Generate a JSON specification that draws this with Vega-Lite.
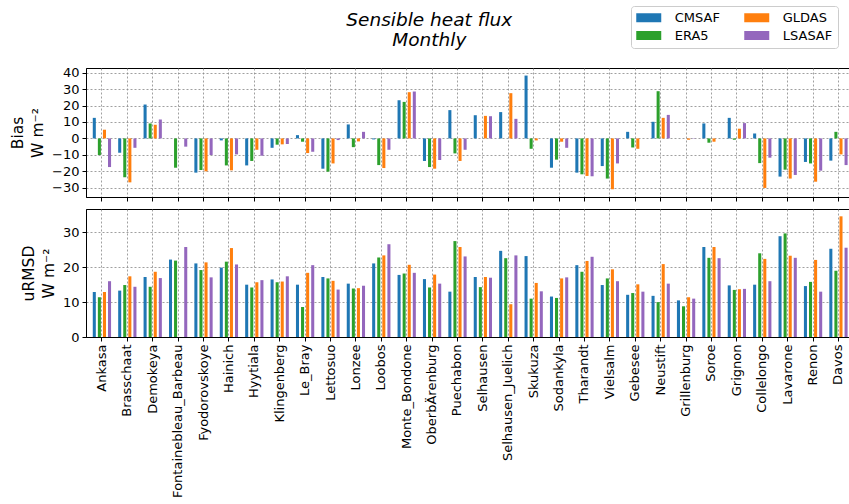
{
  "$schema": "https://vega.github.io/schema/vega-lite/v6.json",
  "background": "white",
  "padding": {"left": 10, "top": 5, "right": 0, "bottom": 0},
  "config": {
    "font": "DejaVu Sans",
    "view": {"stroke": "black", "strokeWidth": 1},
    "axis": {
      "labelFontSize": 13, "titleFontSize": 15.5, "labelColor": "black", "titleColor": "black",
      "titleFontWeight": "normal", "tickColor": "black", "domainColor": "black", "tickSize": 4,
      "gridColor": "#888", "gridDash": [2, 2], "gridWidth": 0.8, "labelPadding": 3, "titleLineHeight": 20
    }
  },
  "title": {"text": ["Sensible heat flux", "Monthly"], "fontStyle": "italic", "fontWeight": "normal", "fontSize": 18.5, "anchor": "middle", "lineHeight": 20.5, "offset": -44, "dx": -2, "color": "black", "font": "DejaVu Sans"},
  "data": {"values": [
    {"site":"Ankasa","product":"CMSAF","bias":12.5,"urmsd":12.9},{"site":"Ankasa","product":"ERA5","bias":-10.1,"urmsd":11.4},{"site":"Ankasa","product":"GLDAS","bias":5.3,"urmsd":12.9},{"site":"Ankasa","product":"LSASAF","bias":-17.4,"urmsd":16.0},
    {"site":"Brasschaat","product":"CMSAF","bias":-8.7,"urmsd":13.3},{"site":"Brasschaat","product":"ERA5","bias":-23.6,"urmsd":14.9},{"site":"Brasschaat","product":"GLDAS","bias":-26.7,"urmsd":17.4},{"site":"Brasschaat","product":"LSASAF","bias":-5.7,"urmsd":14.4},
    {"site":"Demokeya","product":"CMSAF","bias":20.6,"urmsd":17.2},{"site":"Demokeya","product":"ERA5","bias":9.1,"urmsd":14.4},{"site":"Demokeya","product":"GLDAS","bias":8.3,"urmsd":18.7},{"site":"Demokeya","product":"LSASAF","bias":11.5,"urmsd":16.9},
    {"site":"Fontainebleau_Barbeau","product":"CMSAF","bias":0,"urmsd":22.2},{"site":"Fontainebleau_Barbeau","product":"ERA5","bias":-17.8,"urmsd":21.9},{"site":"Fontainebleau_Barbeau","product":"GLDAS","bias":null,"urmsd":null},{"site":"Fontainebleau_Barbeau","product":"LSASAF","bias":-5.0,"urmsd":25.8},
    {"site":"Fyodorovskoye","product":"CMSAF","bias":-20.8,"urmsd":21.1},{"site":"Fyodorovskoye","product":"ERA5","bias":-19.2,"urmsd":19.2},{"site":"Fyodorovskoye","product":"GLDAS","bias":-20.0,"urmsd":21.4},{"site":"Fyodorovskoye","product":"LSASAF","bias":-10.1,"urmsd":17.1},
    {"site":"Hainich","product":"CMSAF","bias":-1.2,"urmsd":19.9},{"site":"Hainich","product":"ERA5","bias":-16.4,"urmsd":21.6},{"site":"Hainich","product":"GLDAS","bias":-19.4,"urmsd":25.5},{"site":"Hainich","product":"LSASAF","bias":-9.7,"urmsd":20.8},
    {"site":"Hyytiala","product":"CMSAF","bias":-16.4,"urmsd":15.0},{"site":"Hyytiala","product":"ERA5","bias":-13.7,"urmsd":14.2},{"site":"Hyytiala","product":"GLDAS","bias":-6.9,"urmsd":15.7},{"site":"Hyytiala","product":"LSASAF","bias":-10.5,"urmsd":16.3},
    {"site":"Klingenberg","product":"CMSAF","bias":-5.7,"urmsd":16.5},{"site":"Klingenberg","product":"ERA5","bias":-3.8,"urmsd":15.7},{"site":"Klingenberg","product":"GLDAS","bias":-3.6,"urmsd":15.9},{"site":"Klingenberg","product":"LSASAF","bias":-3.4,"urmsd":17.4},
    {"site":"Le_Bray","product":"CMSAF","bias":2.0,"urmsd":15.0},{"site":"Le_Bray","product":"ERA5","bias":-2.0,"urmsd":8.6},{"site":"Le_Bray","product":"GLDAS","bias":-8.9,"urmsd":18.4},{"site":"Le_Bray","product":"LSASAF","bias":-8.1,"urmsd":20.6},
    {"site":"Lettosuo","product":"CMSAF","bias":-18.4,"urmsd":17.2},{"site":"Lettosuo","product":"ERA5","bias":-20.2,"urmsd":16.8},{"site":"Lettosuo","product":"GLDAS","bias":-15.2,"urmsd":16.1},{"site":"Lettosuo","product":"LSASAF","bias":-1.0,"urmsd":13.6},
    {"site":"Lonzee","product":"CMSAF","bias":8.5,"urmsd":15.3},{"site":"Lonzee","product":"ERA5","bias":-5.3,"urmsd":13.9},{"site":"Lonzee","product":"GLDAS","bias":-1.8,"urmsd":14.0},{"site":"Lonzee","product":"LSASAF","bias":4.0,"urmsd":14.7},
    {"site":"Loobos","product":"CMSAF","bias":-0.6,"urmsd":21.1},{"site":"Loobos","product":"ERA5","bias":-16.2,"urmsd":22.8},{"site":"Loobos","product":"GLDAS","bias":-18.0,"urmsd":23.4},{"site":"Loobos","product":"LSASAF","bias":-6.9,"urmsd":26.6},
    {"site":"Monte_Bondone","product":"CMSAF","bias":23.2,"urmsd":17.8},{"site":"Monte_Bondone","product":"ERA5","bias":22.2,"urmsd":18.2},{"site":"Monte_Bondone","product":"GLDAS","bias":28.1,"urmsd":20.7},{"site":"Monte_Bondone","product":"LSASAF","bias":28.5,"urmsd":18.4},
    {"site":"OberbÄrenburg","product":"CMSAF","bias":-13.7,"urmsd":16.6},{"site":"OberbÄrenburg","product":"ERA5","bias":-17.4,"urmsd":14.2},{"site":"OberbÄrenburg","product":"GLDAS","bias":-18.4,"urmsd":17.9},{"site":"OberbÄrenburg","product":"LSASAF","bias":-13.1,"urmsd":15.3},
    {"site":"Puechabon","product":"CMSAF","bias":17.2,"urmsd":13.0},{"site":"Puechabon","product":"ERA5","bias":-9.1,"urmsd":27.5},{"site":"Puechabon","product":"GLDAS","bias":-13.7,"urmsd":25.8},{"site":"Puechabon","product":"LSASAF","bias":-6.9,"urmsd":23.1},
    {"site":"Selhausen","product":"CMSAF","bias":14.1,"urmsd":17.2},{"site":"Selhausen","product":"ERA5","bias":0,"urmsd":14.3},{"site":"Selhausen","product":"GLDAS","bias":13.7,"urmsd":17.2},{"site":"Selhausen","product":"LSASAF","bias":13.5,"urmsd":17.0},
    {"site":"Selhausen_Juelich","product":"CMSAF","bias":16.0,"urmsd":24.7},{"site":"Selhausen_Juelich","product":"ERA5","bias":0,"urmsd":22.6},{"site":"Selhausen_Juelich","product":"GLDAS","bias":27.5,"urmsd":9.4},{"site":"Selhausen_Juelich","product":"LSASAF","bias":11.9,"urmsd":23.4},
    {"site":"Skukuza","product":"CMSAF","bias":38.2,"urmsd":23.2},{"site":"Skukuza","product":"ERA5","bias":-6.3,"urmsd":11.0},{"site":"Skukuza","product":"GLDAS","bias":-1.2,"urmsd":15.5},{"site":"Skukuza","product":"LSASAF","bias":0,"urmsd":13.1},
    {"site":"Sodankyla","product":"CMSAF","bias":-17.8,"urmsd":11.6},{"site":"Sodankyla","product":"ERA5","bias":-12.9,"urmsd":11.2},{"site":"Sodankyla","product":"GLDAS","bias":-2.0,"urmsd":16.8},{"site":"Sodankyla","product":"LSASAF","bias":-5.7,"urmsd":17.1},
    {"site":"Tharandt","product":"CMSAF","bias":-20.8,"urmsd":20.6},{"site":"Tharandt","product":"ERA5","bias":-21.8,"urmsd":18.7},{"site":"Tharandt","product":"GLDAS","bias":-22.8,"urmsd":21.8},{"site":"Tharandt","product":"LSASAF","bias":-23.0,"urmsd":23.0},
    {"site":"Vielsalm","product":"CMSAF","bias":-16.8,"urmsd":14.9},{"site":"Vielsalm","product":"ERA5","bias":-24.4,"urmsd":16.8},{"site":"Vielsalm","product":"GLDAS","bias":-30.9,"urmsd":19.4},{"site":"Vielsalm","product":"LSASAF","bias":-15.2,"urmsd":16.0},
    {"site":"Gebesee","product":"CMSAF","bias":4.0,"urmsd":12.1},{"site":"Gebesee","product":"ERA5","bias":-5.5,"urmsd":12.6},{"site":"Gebesee","product":"GLDAS","bias":-6.3,"urmsd":15.1},{"site":"Gebesee","product":"LSASAF","bias":0,"urmsd":13.0},
    {"site":"Neustift","product":"CMSAF","bias":10.1,"urmsd":11.8},{"site":"Neustift","product":"ERA5","bias":28.7,"urmsd":10.0},{"site":"Neustift","product":"GLDAS","bias":12.5,"urmsd":20.9},{"site":"Neustift","product":"LSASAF","bias":14.3,"urmsd":15.3},
    {"site":"Grillenburg","product":"CMSAF","bias":0,"urmsd":10.5},{"site":"Grillenburg","product":"ERA5","bias":0,"urmsd":8.8},{"site":"Grillenburg","product":"GLDAS","bias":-0.8,"urmsd":11.4},{"site":"Grillenburg","product":"LSASAF","bias":0.2,"urmsd":11.0},
    {"site":"Soroe","product":"CMSAF","bias":9.1,"urmsd":25.8},{"site":"Soroe","product":"ERA5","bias":-2.6,"urmsd":22.7},{"site":"Soroe","product":"GLDAS","bias":-2.0,"urmsd":25.8},{"site":"Soroe","product":"LSASAF","bias":0,"urmsd":22.6},
    {"site":"Grignon","product":"CMSAF","bias":12.5,"urmsd":14.8},{"site":"Grignon","product":"ERA5","bias":-0.8,"urmsd":13.5},{"site":"Grignon","product":"GLDAS","bias":5.9,"urmsd":13.7},{"site":"Grignon","product":"LSASAF","bias":9.3,"urmsd":13.8},
    {"site":"Collelongo","product":"CMSAF","bias":3.0,"urmsd":15.0},{"site":"Collelongo","product":"ERA5","bias":-15.0,"urmsd":24.0},{"site":"Collelongo","product":"GLDAS","bias":-30.1,"urmsd":22.4},{"site":"Collelongo","product":"LSASAF","bias":-11.7,"urmsd":16.0},
    {"site":"Lavarone","product":"CMSAF","bias":-23.2,"urmsd":28.9},{"site":"Lavarone","product":"ERA5","bias":-19.0,"urmsd":29.7},{"site":"Lavarone","product":"GLDAS","bias":-24.4,"urmsd":23.3},{"site":"Lavarone","product":"LSASAF","bias":-22.2,"urmsd":22.7},
    {"site":"Renon","product":"CMSAF","bias":-14.3,"urmsd":14.6},{"site":"Renon","product":"ERA5","bias":-15.2,"urmsd":15.8},{"site":"Renon","product":"GLDAS","bias":-26.3,"urmsd":22.1},{"site":"Renon","product":"LSASAF","bias":-19.6,"urmsd":13.0},
    {"site":"Davos","product":"CMSAF","bias":-13.5,"urmsd":25.3},{"site":"Davos","product":"ERA5","bias":4.0,"urmsd":19.0},{"site":"Davos","product":"GLDAS","bias":-9.7,"urmsd":34.6},{"site":"Davos","product":"LSASAF","bias":-16.2,"urmsd":25.6}
  ]},
  "spacing": 6,
  "resolve": {"scale": {"y": "independent"}},
  "vconcat": [
    {
      "width": 766, "height": 129,
      "mark": {"type": "bar"},
      "encoding": {
        "x": {"field": "site", "type": "nominal", "sort": null,
              "scale": {"paddingInner": 0.2, "paddingOuter": 0.18, "align": 0.63},
              "axis": {"labels": false, "title": null, "grid": true, "bandPosition": 0.5}},
        "xOffset": {"field": "product", "type": "nominal", "scale": {"domain": ["CMSAF", "ERA5", "GLDAS", "LSASAF"], "paddingInner": 0.4, "paddingOuter": 0.2}},
        "y": {"field": "bias", "type": "quantitative",
              "scale": {"domain": [-35.6, 42.8], "nice": false, "zero": false},
              "axis": {"values": [-30, -20, -10, 0, 10, 20, 30, 40], "title": ["Bias", "W m⁻²"], "grid": true, "titlePadding": 6}},
        "color": {"field": "product", "type": "nominal",
                  "scale": {"domain": ["CMSAF", "GLDAS", "ERA5", "LSASAF"], "range": ["#1f77b4", "#ff7f0e", "#2ca02c", "#9467bd"]},
                  "legend": {"orient": "none", "legendX": 545, "legendY": -62, "direction": "horizontal", "columns": 2, "title": null,
                             "labelFontSize": 13, "labelColor": "black", "symbolType": "M-2,-0.72L2,-0.72L2,0.72L-2,0.72Z", "symbolSize": 156.25,
                             "symbolOffset": 6.25, "symbolStrokeWidth": 0, "labelOffset": 19.5, "columnPadding": 24, "rowPadding": 4,
                             "strokeColor": "#cccccc", "fillColor": "white", "cornerRadius": 3, "padding": 5}}
      }
    },
    {
      "width": 766, "height": 128,
      "mark": {"type": "bar"},
      "encoding": {
        "x": {"field": "site", "type": "nominal", "sort": null,
              "scale": {"paddingInner": 0.2, "paddingOuter": 0.18, "align": 0.63},
              "axis": {"labelAngle": 270, "title": null, "grid": true, "bandPosition": 0.5}},
        "xOffset": {"field": "product", "type": "nominal", "scale": {"domain": ["CMSAF", "ERA5", "GLDAS", "LSASAF"], "paddingInner": 0.4, "paddingOuter": 0.2}},
        "y": {"field": "urmsd", "type": "quantitative",
              "scale": {"domain": [0, 36.7], "nice": false},
              "axis": {"values": [0, 10, 20, 30], "title": ["uRMSD", "W m⁻²"], "grid": true, "titlePadding": 6}},
        "color": {"field": "product", "type": "nominal"}
      }
    }
  ]
}
